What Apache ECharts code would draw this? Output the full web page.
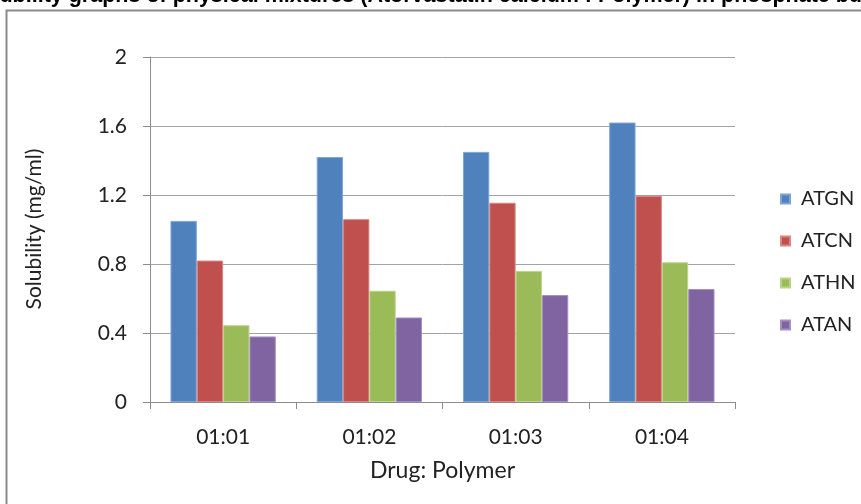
<!DOCTYPE html>
<html>
<head>
<meta charset="utf-8">
<style>
  html, body { margin: 0; padding: 0; background: #fff; }
  #chart { width: 861px; height: 504px; }
</style>
<script src="https://cdn.jsdelivr.net/npm/echarts@6/dist/echarts.min.js"></script>
</head>
<body>
<div id="chart"></div>
<script>
// Drug : polymer ratios on the category axis
const ratios = ['01:01', '01:02', '01:03', '01:04'];

// Solubility (mg/ml) of each physical mixture
const atgn = [1.05, 1.42, 1.45, 1.62];
const atcn = [0.82, 1.06, 1.155, 1.195];
const athn = [0.445, 0.645, 0.76, 0.81];
const atan = [0.38, 0.49, 0.62, 0.655];

const seriesNames = ['ATGN', 'ATCN', 'ATHN', 'ATAN'];
const seriesValues = [atgn, atcn, athn, atan];
const fills = ['#4F81BD', '#C0504D', '#9BBB59', '#8064A2'];
const edges = ['#7FA4D4', '#D98683', '#BAD38A', '#A58FC2'];

const titleText = 'Solubility graphs of physical mixtures (Atorvastatin calcium : Polymer) in phosphate buffer';

const chart = echarts.init(document.getElementById('chart'), null, { renderer: 'canvas' });

const fontFamily = 'Lato, "Open Sans", sans-serif';

chart.setOption({
  animation: false,
  backgroundColor: '#ffffff',
  color: fills,
  grid: { left: 150, right: 126, top: 57, bottom: 102, containLabel: false },
  legend: {
    orient: 'vertical',
    left: 775,
    top: 184,
    itemWidth: 9,
    itemHeight: 9,
    itemGap: 22,
    icon: 'rect',
    data: seriesNames,
    textStyle: { fontFamily, fontSize: 20, color: '#222', lineHeight: 20, padding: [0, 0, 0, 6] }
  },
  xAxis: {
    type: 'category',
    data: ratios,
    name: 'Drug: Polymer',
    nameLocation: 'middle',
    nameGap: 57,
    nameTextStyle: { fontFamily, fontSize: 23, color: '#222' },
    axisLine: { lineStyle: { color: '#8c8c8c', width: 1 } },
    axisTick: { show: true, length: 7, alignWithLabel: false, lineStyle: { color: '#8c8c8c' } },
    axisLabel: { fontFamily, fontSize: 21, color: '#222', margin: 25 },
    splitLine: { show: false }
  },
  yAxis: {
    type: 'value',
    min: 0,
    max: 2,
    interval: 0.4,
    axisLine: { show: true, lineStyle: { color: '#8c8c8c', width: 1 } },
    axisTick: { show: true, length: 7, lineStyle: { color: '#8c8c8c' } },
    axisLabel: { fontFamily, fontSize: 21, color: '#222', margin: 23 },
    splitLine: { show: true, lineStyle: { color: '#a3a3a3', width: 1 } }
  },
  series: seriesNames.map((name, i) => ({
    name,
    type: 'bar',
    data: seriesValues[i],
    barGap: '0%',
    barCategoryGap: '28%',
    itemStyle: { color: fills[i], borderColor: edges[i], borderWidth: 1 }
  })),
  graphic: [
    // chart frame, only its left and top edges fall inside the view
    {
      type: 'rect',
      shape: { x: 6.5, y: 10.5, width: 1000, height: 1000 },
      style: { fill: null, stroke: '#8a8a8a', lineWidth: 2 },
      z: 10
    },
    // heading running off the top edge
    {
      type: 'text',
      x: -34,
      y: -3.5,
      style: {
        text: titleText,
        font: 'bold 21.5px "Liberation Sans", Arial, sans-serif',
        fill: '#000',
        textAlign: 'left',
        textVerticalAlign: 'middle'
      },
      z: 9
    },
    // vertical axis title
    {
      type: 'text',
      x: 34,
      y: 229,
      rotation: Math.PI / 2,
      style: {
        text: 'Solubility (mg/ml)',
        font: '21px Lato, "Open Sans", sans-serif',
        fill: '#222',
        textAlign: 'center',
        textVerticalAlign: 'middle'
      },
      z: 10
    }
  ]
});
</script>
</body>
</html>
